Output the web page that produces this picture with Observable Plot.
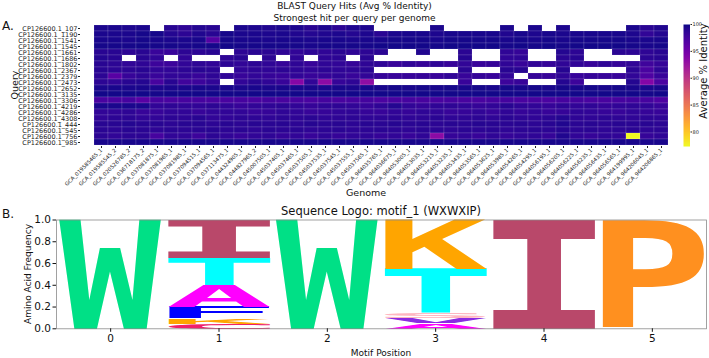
<!DOCTYPE html>
<html><head><meta charset="utf-8">
<script src="https://cdn.jsdelivr.net/npm/d3@7"></script>
<script src="https://cdn.jsdelivr.net/npm/@observablehq/plot@0.6"></script>
<style>
body{margin:0;background:#fff;}
#root{position:relative;width:709px;height:358px;overflow:hidden;background:#fff;}
#root > svg{position:absolute;}
</style></head><body><div id="root"></div>
<script>
const _ = null;
const queries = ["CP126600.1_107","CP126600.1_1190","CP126600.1_1541","CP126600.1_1545","CP126600.1_1661","CP126600.1_1686","CP126600.1_1802","CP126600.1_2367","CP126600.1_2379","CP126600.1_2473","CP126600.1_2652","CP126600.1_3135","CP126600.1_3306","CP126600.1_4219","CP126600.1_4286","CP126600.1_4308","CP126600.1_444","CP126600.1_545","CP126600.1_756","CP126600.1_985"];
const genomes = ["GCA_019585465_1","GCA_019585545_2","GCA_020526785_2","GCA_036718175_2","GCA_037081875_1","GCA_037081965_1","GCA_037081985_1","GCA_037094515_1","GCA_037094565_1","GCA_037113475_1","GCA_044324905_1","GCA_044827965_2","GCA_045007505_1","GCA_045037405_1","GCA_045037465_1","GCA_045037505_1","GCA_045037535_1","GCA_045037545_1","GCA_045037555_1","GCA_045037565_1","GCA_964035765_1","GCA_964036675_1","GCA_964053005_1","GCA_964053035_1","GCA_964053215_1","GCA_964053235_1","GCA_964053435_1","GCA_964053565_1","GCA_964053625_1","GCA_964053985_1","GCA_964054265_1","GCA_964054295_1","GCA_964056195_1","GCA_964056205_1","GCA_964056225_1","GCA_964056235_1","GCA_964056435_1","GCA_964056565_1","GCA_964199995_1","GCA_964206045_1","GCA_964206865_1"];
// average % identity, one row per query, one value per genome (null = no hit)
const identity = [
[99.5,99.5,99.4,99.5,_,99.0,98.6,99.2,99.0,_,99.5,99.4,99.3,99.5,99.4,99.0,99.4,98.8,99.3,99.4,_,_,_,_,99.5,_,_,_,_,99.5,_,99.5,_,99.4,_,_,_,_,99.5,98.9,99.3],
[99.5,99.5,99.5,99.7,99.7,99.2,98.8,99.3,99.0,99.7,99.5,99.5,99.4,99.5,99.3,99.2,99.3,99.4,99.2,99.4,98.9,99.5,99.6,99.6,99.4,99.6,99.6,99.6,99.6,99.3,99.6,99.4,99.6,99.5,99.6,99.6,99.6,99.6,99.4,98.5,99.2],
[99.6,99.6,99.5,99.7,99.6,99.5,99.5,99.6,96.8,99.7,99.6,99.6,99.5,99.6,99.6,99.5,99.6,99.6,99.5,99.6,99.6,99.7,99.7,99.7,99.6,99.7,99.7,99.7,99.7,99.6,99.7,99.6,99.7,99.6,99.7,99.7,99.7,99.7,99.6,99.5,99.6],
[99.7,99.7,99.7,99.8,99.7,99.7,99.6,99.7,99.7,99.8,99.7,99.7,99.7,99.7,99.7,99.6,99.7,99.7,99.7,99.7,99.8,99.8,99.8,99.8,99.7,99.8,99.8,99.8,99.8,99.7,99.8,99.7,99.8,99.7,99.8,99.8,99.8,99.8,99.7,99.6,99.7],
[99.0,99.0,98.8,99.0,98.2,98.2,98.8,98.8,99.0,_,98.8,99.0,98.9,98.7,98.5,98.8,98.6,98.9,98.7,98.8,98.9,_,_,99.3,_,_,98.9,_,_,98.6,98.4,_,_,99.2,98.8,_,_,98.9,98.8,98.7,99.0],
[99.2,99.0,_,99.0,98.5,_,98.5,_,_,98.7,99.0,_,98.8,_,98.6,_,98.7,98.8,_,98.9,_,_,_,_,_,_,99.1,_,_,98.5,98.6,_,_,98.9,99.0,_,_,_,_,98.8,99.0],
[99.0,98.8,98.5,98.7,98.0,98.0,98.5,98.7,98.5,98.8,98.5,98.8,98.6,98.4,98.7,98.3,98.6,98.5,98.4,98.7,98.6,98.2,98.5,98.4,98.6,98.3,98.5,98.2,98.4,98.6,98.3,98.5,98.4,98.6,98.5,98.3,98.6,98.4,98.5,97.8,98.4],
[99.0,98.8,98.8,99.0,98.5,98.5,98.8,99.0,98.8,_,98.5,98.7,98.6,98.8,98.7,98.5,98.8,98.6,98.7,98.9,_,_,_,_,_,_,98.9,_,_,99.0,99.0,_,_,99.1,_,_,_,_,98.8,97.3,98.7],
[98.8,96.5,98.3,98.7,98.2,98.5,98.5,98.3,98.7,98.5,98.3,98.5,98.4,98.2,98.5,98.3,98.4,98.6,98.3,98.5,98.4,98.2,98.3,98.4,98.2,98.5,98.3,98.4,98.2,98.5,_,98.4,98.3,98.6,98.2,98.4,98.3,98.2,98.5,97.0,98.2],
[98.8,98.5,99.0,99.2,97.5,99.0,97.8,98.0,98.5,_,98.5,99.0,98.6,98.3,93.8,98.5,93.5,98.4,98.7,93.2,_,_,_,_,_,_,98.2,_,_,98.0,98.3,_,_,99.2,98.0,_,_,_,99.2,94.0,97.2],
[99.5,99.6,99.5,99.6,99.4,99.5,99.5,99.6,99.5,99.6,99.5,99.6,99.5,99.6,99.5,99.6,99.5,99.6,99.5,99.6,99.6,99.7,99.6,99.7,99.6,99.7,99.6,99.7,99.6,99.7,99.6,99.7,99.6,99.7,99.6,99.7,99.6,99.7,99.6,99.5,99.6],
[99.8,99.8,99.8,99.8,99.7,99.8,99.8,99.8,99.8,99.8,99.8,99.8,99.8,99.8,99.8,99.8,99.8,99.8,99.8,99.8,99.8,99.8,99.8,99.8,99.8,99.8,99.8,99.8,99.8,99.8,99.8,99.8,99.8,99.8,99.8,99.8,99.8,99.8,99.8,99.7,99.8],
[97.3,97.3,97.5,96.5,97.5,97.3,97.5,97.5,97.3,97.3,97.5,97.3,97.6,97.4,97.5,97.3,97.6,97.4,97.5,97.6,97.2,97.3,97.5,97.4,97.3,97.5,97.4,97.3,97.5,97.6,97.3,97.4,97.2,97.5,97.6,97.3,97.4,97.5,97.6,97.5,97.0],
[99.5,99.5,99.5,99.5,98.5,98.7,98.5,98.5,98.8,98.5,98.3,98.5,98.6,98.8,98.5,98.4,98.6,98.7,98.5,98.3,98.6,99.2,98.5,98.4,98.6,98.7,98.5,98.4,98.5,99.0,98.6,98.5,98.4,98.7,98.5,98.6,98.4,98.5,98.6,98.5,98.2],
[98.5,98.5,98.7,98.3,98.3,98.5,98.5,98.3,98.5,98.5,98.5,98.3,98.4,98.6,98.5,98.3,98.4,98.5,98.6,98.4,98.3,98.5,98.4,98.6,98.5,98.3,98.4,98.5,98.3,98.6,98.4,98.5,98.3,98.4,98.6,98.5,98.4,98.3,98.5,98.4,98.3],
[98.5,98.8,98.8,98.5,98.5,98.8,98.7,99.0,98.5,98.5,98.8,98.7,98.6,98.8,98.7,98.9,98.6,98.7,98.8,98.6,98.7,98.8,98.6,98.7,98.9,98.6,98.7,98.8,98.6,98.9,98.7,98.6,98.8,99.2,98.7,98.6,98.8,98.7,98.6,98.7,98.6],
[99.0,99.0,99.2,99.0,99.0,98.8,99.0,99.0,98.8,99.0,98.8,99.0,98.9,99.0,98.8,99.1,98.9,99.0,98.8,99.0,98.9,99.1,98.9,99.0,98.8,99.0,98.9,99.1,99.0,98.9,99.0,98.8,99.0,99.3,98.9,99.0,98.8,99.0,98.9,99.0,98.8],
[98.9,98.8,99.0,98.9,98.7,98.9,98.8,98.9,99.0,98.8,98.9,98.7,98.9,98.8,98.9,98.7,98.8,98.9,98.7,98.8,98.9,98.8,98.7,98.9,98.8,98.7,98.9,98.8,98.9,98.7,98.8,98.9,98.8,99.1,98.8,98.9,98.7,98.8,98.9,98.7,98.8],
[98.8,98.5,98.8,98.8,97.5,98.5,98.5,98.0,98.8,98.5,98.3,98.5,98.6,98.4,98.5,98.3,98.6,98.4,98.5,98.6,98.4,98.5,98.3,98.6,93.5,98.4,98.5,98.3,98.6,98.4,98.5,98.6,98.4,99.3,98.5,98.4,98.6,98.5,77.3,98.4,98.6],
[99.6,99.6,99.6,99.6,99.5,99.6,99.6,99.6,99.6,99.6,99.6,99.6,99.6,99.6,99.6,99.6,99.6,99.6,99.6,99.6,99.6,99.6,99.6,99.6,99.6,99.6,99.6,99.6,99.6,99.6,99.6,99.6,99.6,99.6,99.6,99.6,99.6,99.6,99.6,99.5,99.6]
];
const colorTicks = [80, 85, 90, 95, 100];
const colorDomain = [77.3, 100];

// sequence logo: positions, letters (bottom to top), frequencies, colours
const logoPos    = [0, 1, 1, 1, 1, 1, 1, 2, 3, 3, 3, 3, 3, 4, 5];
const logoLetter = ["W","C","K","F","A","T","I","W","A","V","S","T","K","I","P"];
const logoFreq   = [1.0, 0.046, 0.051, 0.103, 0.20, 0.25, 0.35, 1.0, 0.05, 0.05, 0.043, 0.407, 0.45, 1.0, 1.0];
const letterColor = {W:"#00e086", I:"#b9486a", T:"#00ffff", A:"#ff00ff", F:"#0000ff", K:"#ffa500", C:"#f0206c", V:"#8a2be2", S:"#ffb6c1", P:"#ff901f"};
const logoTicksX = [0, 1, 2, 3, 4, 5];
const logoTicksY = [0, 0.2, 0.4, 0.6, 0.8, 1.0];

const root = document.getElementById("root");
const FONT = '"DejaVu Sans", sans-serif';

// ---- heatmap ----
const cells = [];
queries.forEach((q, i) => genomes.forEach((g, j) => {
  const v = identity[i][j];
  if (v != null) cells.push({query: q, genome: g, value: v});
}));
const colorOpts = {type: "linear", domain: colorDomain, scheme: "plasma", reverse: true};
const heat = Plot.plot({
  width: 709, height: 200,
  marginLeft: 80, marginRight: 28, marginTop: 24, marginBottom: 54,
  style: {fontFamily: FONT, background: "transparent", color: "#222"},
  x: {type: "band", domain: genomes, padding: 0},
  y: {type: "band", domain: queries, padding: 0},
  color: colorOpts,
  marks: [
    Plot.cell(cells, {x: "genome", y: "query", fill: "value", inset: 0, stroke: "white", strokeOpacity: 0.22, strokeWidth: 0.6}),
    Plot.axisX({tickRotate: -45, fontSize: 5.3, tickSize: 2, tickPadding: 1, label: null}),
    Plot.axisY({fontSize: 6.5, tickSize: 2, tickPadding: 1, label: null})
  ]
});
heat.style.left = "0px"; heat.style.top = "0px";
root.appendChild(heat);

// ---- colorbar ----
const cbar = Plot.plot({
  width: 26, height: 200,
  marginLeft: 0, marginRight: 19.5, marginTop: 24, marginBottom: 54,
  style: {fontFamily: FONT, background: "transparent", color: "#222"},
  x: {domain: [0, 1], axis: null},
  y: {domain: colorDomain, ticks: colorTicks, tickFormat: d => d},
  color: colorOpts,
  marks: [
    Plot.raster({x1: 0, x2: 1, y1: colorDomain[0], y2: colorDomain[1], width: 1, height: 244, fill: (x, y) => y}),
    Plot.axisY({anchor: "right", ticks: colorTicks, fontSize: 5, tickSize: 1.5, tickPadding: 1, label: null})
  ]
});
cbar.style.left = "683px"; cbar.style.top = "0px";
root.appendChild(cbar);

// ---- sequence logo ----
const glyphs = [];
const stackTop = {};
logoPos.forEach((p, i) => {
  const y0 = stackTop[p] || 0, y1 = y0 + logoFreq[i];
  stackTop[p] = y1;
  glyphs.push({pos: p, letter: logoLetter[i], y0, y1, color: letterColor[logoLetter[i]]});
});
const glyphFont = '"DejaVu Sans Mono", monospace';
const halfWidth = 0.475;
function stretchGlyphs(index, scales, values, dimensions, context, next) {
  const g = next(index, scales, values, dimensions, context);
  const ctx = document.createElement("canvas").getContext("2d");
  ctx.font = `bold 100px ${glyphFont}`;
  g.querySelectorAll("text").forEach((t, k) => {
    const d = glyphs[index[k]];
    const m = ctx.measureText(d.letter);
    const L = m.actualBoundingBoxLeft, R = m.actualBoundingBoxRight;
    const A = m.actualBoundingBoxAscent, D = m.actualBoundingBoxDescent;
    const x0 = scales.x(d.pos - halfWidth), x1 = scales.x(d.pos + halfWidth);
    const yb = scales.y(d.y0), yt = scales.y(d.y1);
    const sx = (x1 - x0) / (L + R), sy = (yb - yt) / (A + D);
    t.removeAttribute("dy");
    t.setAttribute("x", 0); t.setAttribute("y", 0);
    t.setAttribute("transform", `translate(${x0},${yb}) scale(${sx},${sy}) translate(${L},${-D})`);
    t.setAttribute("font-size", "100px");
    t.setAttribute("font-weight", "bold");
    t.setAttribute("font-family", glyphFont);
    t.setAttribute("text-anchor", "start");
    t.setAttribute("dominant-baseline", "alphabetic");
  });
  return g;
}
const logo = Plot.plot({
  width: 709, height: 158,
  marginLeft: 56, marginRight: 3, marginTop: 19.5, marginBottom: 29.7,
  style: {fontFamily: FONT, background: "transparent", color: "#111"},
  x: {domain: [-0.5, 5.5]},
  y: {domain: [0, 1]},
  color: {type: "identity"},
  marks: [
    Plot.text(glyphs, {x: "pos", y: "y0", text: "letter", fill: "color", render: stretchGlyphs}),
    Plot.frame({stroke: "#8a8a8a", strokeWidth: 0.8}),
    Plot.axisX({ticks: logoTicksX, tickFormat: d => d, fontSize: 10.5, tickSize: 3.5, tickPadding: 2, label: null}),
    Plot.axisY({ticks: logoTicksY, tickFormat: d => d.toFixed(1), fontSize: 10.5, tickSize: 3.5, tickPadding: 2, label: null})
  ]
});
logo.style.left = "0px"; logo.style.top = "200px";
root.appendChild(logo);

// ---- labels ----
const svg = d3.select(root).append("svg").attr("width", 709).attr("height", 358)
  .style("left", "0px").style("top", "0px").style("pointer-events", "none")
  .attr("font-family", FONT).attr("fill", "#111");
const labels = [
  {t: "BLAST Query Hits (Avg % Identity)", x: 354.5, y: 9, s: 9, a: "middle"},
  {t: "Strongest hit per query per genome", x: 354.5, y: 20.5, s: 9, a: "middle"},
  {t: "A.", x: 2, y: 30, s: 12, a: "start"},
  {t: "Query", x: 17.5, y: 85, s: 9.5, a: "middle", r: -90},
  {t: "Genome", x: 366, y: 195.5, s: 9.5, a: "middle"},
  {t: "Average % Identity", x: 706.5, y: 71, s: 10, a: "middle", r: -90},
  {t: "B.", x: 2, y: 218, s: 12, a: "start"},
  {t: "Sequence Logo: motif_1 (WXWXIP)", x: 381, y: 215, s: 11.5, a: "middle"},
  {t: "Amino Acid Frequency", x: 31, y: 274, s: 9, a: "middle", r: -90},
  {t: "Motif Position", x: 381, y: 356, s: 9, a: "middle"}
];
labels.forEach(l => {
  svg.append("text").text(l.t)
    .attr("font-size", l.s).attr("text-anchor", l.a)
    .attr("transform", `translate(${l.x},${l.y})` + (l.r ? ` rotate(${l.r})` : ""));
});
</script></body></html>
